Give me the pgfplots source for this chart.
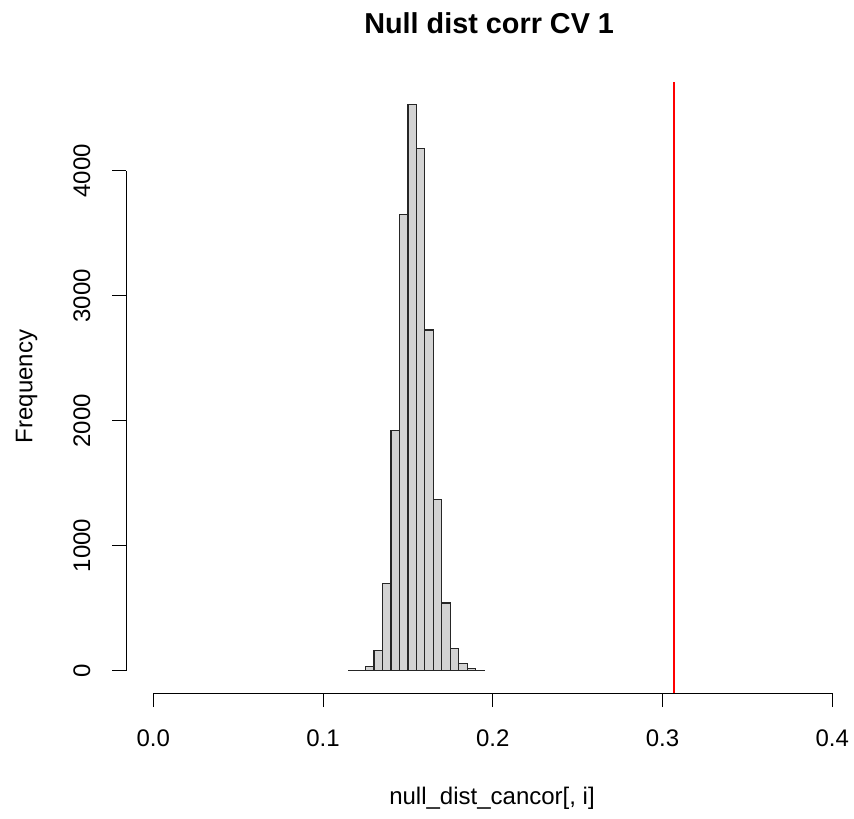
\documentclass[border=0pt]{standalone}
\usepackage{pgfplots}
\pgfplotsset{compat=1.18}
\usepackage{fontspec}
\setmainfont{Liberation Sans}
\definecolor{rgray}{HTML}{D3D3D3}
\begin{document}
\begin{tikzpicture}
\path[use as bounding box] (-126.1pt,-125.8pt) rectangle (727.9pt,693.2pt);
\begin{axis}[
  at={(0,0)}, anchor=south west,
  scale only axis,
  width=727.9pt, height=611.5pt,
  xmin=-0.016, xmax=0.41278,
  ymin=-181.3, ymax=4714,
  axis x line*=bottom, axis y line*=left,
  axis line style={draw=none},
  xtick={0,0.1,0.2,0.3,0.4},
  ytick={0,1000,2000,3000,4000},
  tick align=outside,
  major tick length=14pt,
  every tick/.style={black, line width=1pt},
  scaled ticks=false,
  /pgf/number format/assume math mode=true,
  tick label style={font=\fontsize{24}{28}\selectfont},
  xticklabel style={anchor=base, yshift=-39.3pt,
    /pgf/number format/fixed, /pgf/number format/fixed zerofill,
    /pgf/number format/precision=1},
  yticklabel style={rotate=90, anchor=base, yshift=22pt,
    /pgf/number format/set thousands separator={}},
  title={Null dist corr CV 1},
  every axis title/.style={at={(rel axis cs:0.4988,1.0792)}, anchor=base,
    font=\fontsize{28.8}{34}\selectfont\bfseries},
  xlabel={null\_dist\_cancor[, i]},
  every axis x label/.style={at={(rel axis cs:0.5027,-0.1828)}, anchor=base,
    font=\fontsize{24}{28}\selectfont},
  ylabel={Frequency},
  every axis y label/.style={at={(rel axis cs:-0.1289,0.5016)}, rotate=90, anchor=base,
    font=\fontsize{24}{28}\selectfont},
]
\addplot[ybar interval, fill=rgray, draw=black!85, line width=1.2pt] coordinates {
(0.115,1) (0.120,3) (0.125,30) (0.130,160) (0.135,694) (0.140,1922)
(0.145,3648) (0.150,4534) (0.155,4176) (0.160,2726) (0.165,1368)
(0.170,541) (0.175,174) (0.180,58) (0.185,14) (0.190,2) (0.195,0)
};
\addplot[sharp plot, no markers, red, line width=1.5pt] table {
x y
0.3066 -181.3
0.3066 4714
};
\draw[black, line width=1pt] (axis cs:0,-181.3) -- (axis cs:0.4,-181.3);
\draw[black, line width=1pt] (axis cs:-0.016,0) -- (axis cs:-0.016,4000);
\end{axis}
\end{tikzpicture}
\end{document}
